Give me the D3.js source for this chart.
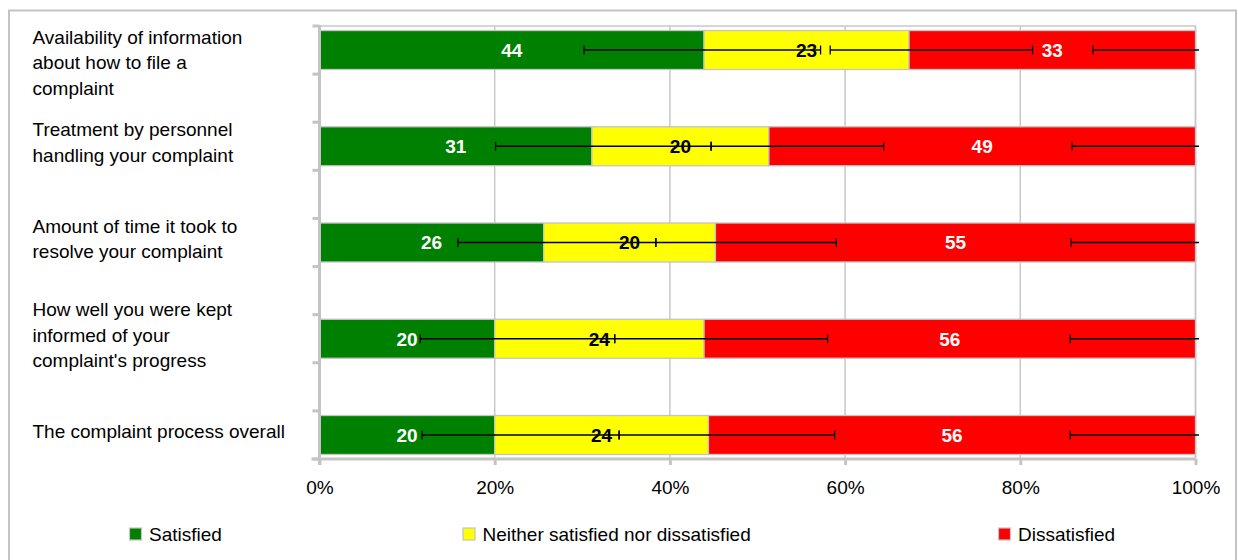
<!DOCTYPE html>
<html>
<head>
<meta charset="utf-8">
<script src="https://cdn.jsdelivr.net/npm/d3@7"></script>
<style>
  html, body { margin: 0; padding: 0; background: #fff; }
  svg { display: block; }
  text { font-family: "Liberation Sans", Arial, sans-serif; }
</style>
</head>
<body>
<svg id="chart" width="1238" height="560"></svg>
<script>
// ---- data ----
const categories = [
  "Availability of information\nabout how to file a\ncomplaint",
  "Treatment by personnel\nhandling your complaint",
  "Amount of time it took to\nresolve your complaint",
  "How well you were kept\ninformed of your\ncomplaint's progress",
  "The complaint process overall"
];
const seriesNames = ["Satisfied", "Neither satisfied nor dissatisfied", "Dissatisfied"];
const satisfied    = [43.9, 31.1, 25.6, 20.0, 20.0];
const neither      = [23.4, 20.2, 19.6, 23.9, 24.4];
const dissatisfied = [32.7, 48.7, 54.8, 56.1, 55.6];
// error bar ends (percent positions on the cumulative axis)
const satisfiedLow     = [30.2, 20.1, 15.8, 11.5, 11.7];
const satisfiedHigh    = [57.2, 44.7, 38.4, 33.7, 34.2];
const neitherLow       = [58.3, 44.7, 38.4, 33.7, 34.2];
const neitherHigh      = [81.4, 64.4, 59.0, 58.0, 58.8];
const dissatisfiedLow  = [88.3, 85.9, 85.8, 85.7, 85.7];
const dissatisfiedHigh = [111.7, 114.1, 114.2, 114.3, 114.3];
const xTicks = [0, 20, 40, 60, 80, 100];
const colors = ["#008000", "#ffff00", "#ff0000"];
const labelColors = ["#ffffff", "#000000", "#ffffff"];

// ---- layout ----
const svg = d3.select("#chart");
const plotLeft = 319.5, plotRight = 1195.5, plotTop = 26, plotBottom = 459;
const FS = 19;

const x = d3.scaleLinear().domain([0, 100]).range([plotLeft, plotRight]);
const y = d3.scaleBand().domain(categories).range([plotTop, plotBottom])
  .paddingInner(0.595).paddingOuter(0.047);
const slot = d3.scaleLinear().domain([0, 9]).range([plotTop, plotBottom]);

// outer frame
svg.append("rect").attr("x", 9).attr("y", 10.5).attr("width", 1227).attr("height", 570)
  .attr("fill", "none").attr("stroke", "#c4c4c4").attr("stroke-width", 2);

// plot area border (top/right) and vertical gridlines
svg.append("rect").attr("x", plotLeft).attr("y", plotTop)
  .attr("width", plotRight - plotLeft).attr("height", plotBottom - plotTop)
  .attr("fill", "none").attr("stroke", "#c8c8c8").attr("stroke-width", 1.5);
svg.append("g").selectAll("line").data(xTicks.slice(1)).join("line")
  .attr("x1", d => x(d)).attr("x2", d => x(d))
  .attr("y1", plotTop).attr("y2", plotBottom)
  .attr("stroke", "#c8c8c8").attr("stroke-width", 1.5);

// stacked data
const series = [satisfied, neither, dissatisfied];
const lows = [satisfiedLow, neitherLow, dissatisfiedLow];
const highs = [satisfiedHigh, neitherHigh, dissatisfiedHigh];
const segs = [];
categories.forEach((c, i) => {
  let acc = 0;
  series.forEach((s, k) => {
    segs.push({cat: c, k, x0: acc, x1: acc + s[i], v: s[i], lo: lows[k][i], hi: highs[k][i]});
    acc += s[i];
  });
});

// bars
svg.append("g").selectAll("rect").data(segs).join("rect")
  .attr("x", d => x(d.x0)).attr("y", d => y(d.cat))
  .attr("width", d => x(d.x1) - x(d.x0)).attr("height", y.bandwidth())
  .attr("fill", d => colors[d.k]).attr("stroke", "#c4c4c4").attr("stroke-width", 1.3);

// value labels
svg.append("g").selectAll("text").data(segs).join("text")
  .attr("x", d => (x(d.x0) + x(d.x1)) / 2)
  .attr("y", d => y(d.cat) + y.bandwidth() / 2)
  .attr("dy", "0.36em").attr("text-anchor", "middle")
  .attr("font-size", FS).attr("font-weight", "bold")
  .attr("fill", d => labelColors[d.k])
  .text(d => Math.round(d.v));

// error bars (clipped at plot edge)
svg.append("clipPath").attr("id", "clipEB").append("rect")
  .attr("x", 0).attr("y", 0).attr("width", plotRight + 3.5).attr("height", 560);
const eb = svg.append("g").attr("clip-path", "url(#clipEB)");
segs.forEach(d => {
  const cy = y(d.cat) + y.bandwidth() / 2;
  eb.append("line").attr("x1", x(d.lo)).attr("x2", x(d.hi)).attr("y1", cy).attr("y2", cy)
    .attr("stroke", "#000").attr("stroke-width", 1.3);
  [d.lo, d.hi].forEach(v => {
    eb.append("line").attr("x1", x(v)).attr("x2", x(v)).attr("y1", cy - 4.5).attr("y2", cy + 4.5)
      .attr("stroke", "#000").attr("stroke-width", 1.3);
  });
});

// y axis line and ticks
svg.append("line").attr("x1", plotLeft).attr("x2", plotLeft).attr("y1", plotTop - 1).attr("y2", plotBottom + 6)
  .attr("stroke", "#c4c4c4").attr("stroke-width", 3);
svg.append("g").selectAll("line").data(d3.range(10)).join("line")
  .attr("x1", plotLeft - 7).attr("x2", plotLeft).attr("y1", d => slot(d)).attr("y2", d => slot(d))
  .attr("stroke", "#c4c4c4").attr("stroke-width", 3);

// x axis
const xAxis = d3.axisBottom(x).tickValues(xTicks).tickFormat(d => d + "%").tickSize(6).tickPadding(16);
const gx = svg.append("g").attr("transform", `translate(0,${plotBottom})`).call(xAxis);
gx.select(".domain").attr("stroke", "#c4c4c4").attr("stroke-width", 3)
  .attr("d", `M${plotLeft - 8},0H${plotRight}`);
gx.selectAll(".tick line").attr("stroke", "#c4c4c4").attr("stroke-width", 3);
gx.selectAll(".tick text").attr("font-size", FS).attr("fill", "#000")
  .attr("font-family", "'Liberation Sans', Arial, sans-serif");

// category labels
const lineH = 25.6;
categories.forEach(c => {
  const lines = c.split("\n");
  const center = y(c) + y.bandwidth() / 2 - 4;
  let top = center - lines.length * lineH / 2;
  if (top < 24) top = 24;
  const t = svg.append("text").attr("font-size", FS).attr("fill", "#000");
  lines.forEach((ln, j) => {
    t.append("tspan").attr("x", 32.5).attr("y", top + lineH * (j + 0.5)).attr("dy", "0.36em").text(ln);
  });
});

// legend
const legendX = [129.5, 463, 998.5];
const lg = svg.append("g").selectAll("g").data(seriesNames).join("g")
  .attr("transform", (d, i) => `translate(${legendX[i]},534)`);
lg.append("rect").attr("x", 0).attr("y", -6).attr("width", 12).attr("height", 12)
  .attr("fill", (d, i) => colors[i]).attr("stroke", "#c4c4c4").attr("stroke-width", 1.2);
lg.append("text").attr("x", 19.5).attr("dy", "0.36em").attr("font-size", FS).attr("fill", "#000").text(d => d);
</script>
</body>
</html>
